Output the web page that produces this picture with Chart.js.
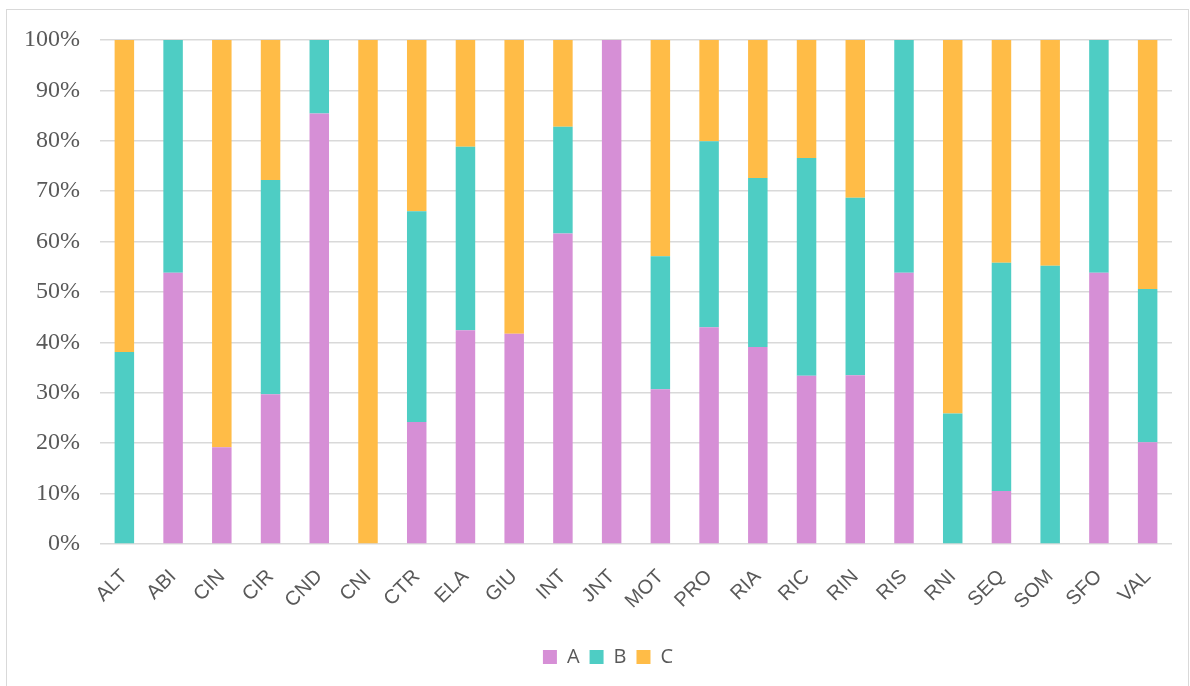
<!DOCTYPE html>
<html>
<head>
<meta charset="utf-8">
<script src="https://cdn.jsdelivr.net/npm/chart.js@4"></script>
<style>
  html, body { margin: 0; padding: 0; background: #ffffff; overflow: hidden; }
  #frame {
    position: absolute; left: 6px; top: 9px;
    width: 1183px; height: 690px;
    border: 1.5px solid #d9d9d9; box-sizing: border-box;
  }
  #wrap { position: absolute; left: 8px; top: 11px; width: 1180px; height: 675px; }
</style>
</head>
<body>
<div id="frame"></div>
<div id="wrap"><canvas id="chart"></canvas></div>
<script>
// Category codes along the x axis
const categories = ['ALT','ABI','CIN','CIR','CND','CNI','CTR','ELA','GIU','INT','JNT',
                    'MOT','PRO','RIA','RIC','RIN','RIS','RNI','SEQ','SOM','SFO','VAL'];

// Share of each group per category, in percent
const seriesA = [0, 53.8, 19.2, 29.7, 85.4, 0, 24.2, 42.4, 41.7, 61.6, 100,
                 30.7, 43.0, 39.1, 33.4, 33.5, 53.8, 0, 10.5, 0, 53.8, 20.2];
const seriesB = [38.1, 46.2, 0, 42.5, 14.6, 0, 41.8, 36.4, 0, 21.2, 0,
                 26.4, 36.9, 33.5, 43.2, 35.2, 46.2, 25.9, 45.3, 55.2, 46.2, 30.4];
const seriesC = [61.9, 0, 80.8, 27.8, 0, 100, 34.0, 21.2, 58.3, 17.2, 0,
                 42.9, 20.1, 27.4, 23.4, 31.3, 0, 74.1, 44.2, 44.8, 0, 49.4];

const seriesNames = ['A', 'B', 'C'];
const yTicks = [0, 10, 20, 30, 40, 50, 60, 70, 80, 90, 100];

const colors = ['#d68fd6', '#4ecdc4', '#ffbc47'];
const textGray = '#595959';
const gridGray = '#d9d9d9';

// Nudges the legend block sideways after layout
const legendShift = {
  id: 'legendShift',
  afterLayout(chart, args, opts) {
    const lg = chart.legend;
    if (lg) { lg.left += opts.dx; lg.right += opts.dx; }
  }
};

const ctx = document.getElementById('chart');
new Chart(ctx, {
  type: 'bar',
  data: {
    labels: categories,
    datasets: [seriesA, seriesB, seriesC].map((vals, i) => ({
      label: seriesNames[i],
      data: vals,
      backgroundColor: colors[i],
      borderWidth: 0,
      barPercentage: 0.4,
      categoryPercentage: 1.0
    }))
  },
  plugins: [legendShift],
  options: {
    responsive: true,
    maintainAspectRatio: false,
    animation: false,
    layout: { padding: { top: 29, right: 16, bottom: 9, left: 0 } },
    plugins: {
      tooltip: { enabled: false },
      legendShift: { dx: 18 },
      legend: {
        position: 'bottom',
        labels: {
          boxWidth: 14,
          boxHeight: 14,
          padding: 10,
          color: textGray,
          font: { family: '"Open Sans", "Noto Sans", sans-serif', size: 20 }
        }
      }
    },
    scales: {
      x: {
        stacked: true,
        grid: { display: false, drawTicks: false },
        border: { display: false },
        ticks: {
          color: textGray,
          maxRotation: 45,
          minRotation: 45,
          padding: 21,
          autoSkip: false,
          font: { family: '"Liberation Sans", Arial, sans-serif', size: 20 }
        },
        afterFit: (scale) => { scale.height = 93; }
      },
      y: {
        stacked: true,
        min: 0,
        max: 100,
        afterBuildTicks: (scale) => { scale.ticks = yTicks.map(v => ({ value: v })); },
        grid: { color: gridGray, lineWidth: 1.5, drawTicks: false },
        border: { display: false },
        ticks: {
          color: textGray,
          padding: 20,
          font: { family: '"Liberation Serif", "Times New Roman", serif', size: 24 },
          callback: (v) => v + '%'
        },
        afterFit: (scale) => {
          scale.width = 92;
          scale.paddingTop = 0;
          scale.paddingBottom = 0;
        }
      }
    }
  }
});
</script>
</body>
</html>
